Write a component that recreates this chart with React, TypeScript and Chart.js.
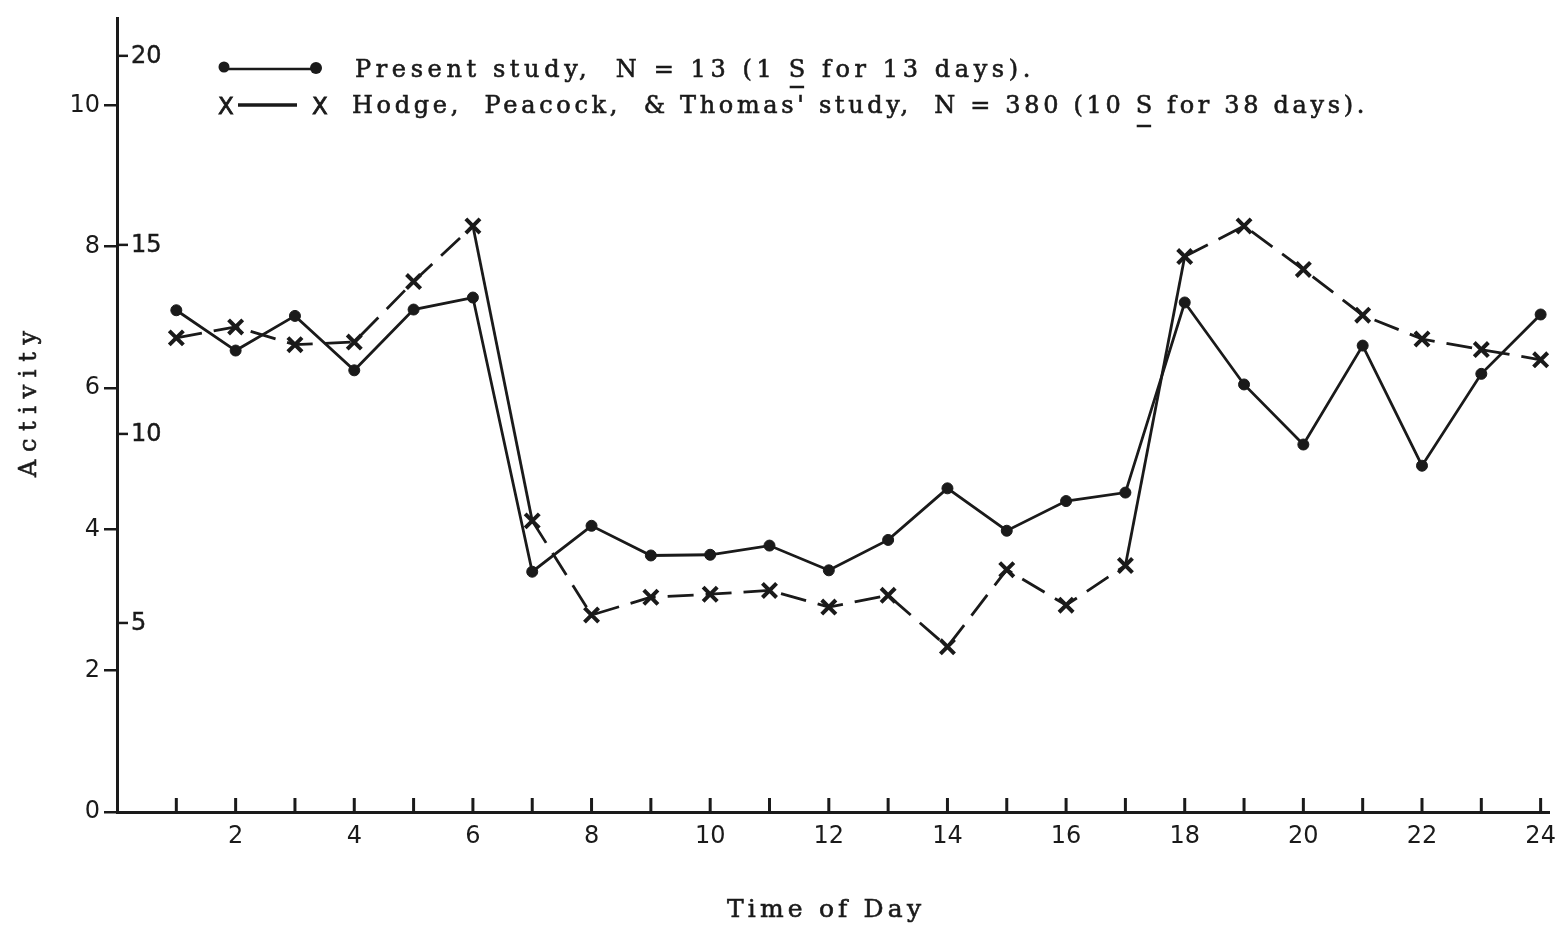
import React, { useEffect, useRef } from "react";
import { Chart, registerables } from "chart.js";

Chart.register(...registerables);

// ---- data ----
const hours = [1, 2, 3, 4, 5, 6, 7, 8, 9, 10, 11, 12, 13, 14, 15, 16, 17, 18, 19, 20, 21, 22, 23, 24];
// Present study, left scale (Activity 0-10)
const presentStudy = [7.1, 6.53, 7.02, 6.25, 7.11, 7.28, 3.4, 4.05, 3.63, 3.64, 3.77, 3.42, 3.85, 4.58, 3.98, 4.4, 4.52, 7.21, 6.05, 5.2, 6.6, 4.9, 6.2, 7.04];
// Hodge, Peacock & Thomas study, inner scale (0-20)
const hodgeStudy = [12.54, 12.83, 12.36, 12.43, 14.03, 15.5, 7.7, 5.21, 5.68, 5.76, 5.86, 5.42, 5.73, 4.37, 6.41, 5.47, 6.52, 14.69, 15.5, 14.35, 13.14, 12.51, 12.23, 11.96];

const xTickValues = [0, 1, 2, 3, 4, 5, 6, 7, 8, 9, 10, 11, 12, 13, 14, 15, 16, 17, 18, 19, 20, 21, 22, 23, 24];
const xLabelHours = [2, 4, 6, 8, 10, 12, 14, 16, 18, 20, 22, 24];
const xTickLabels = ["2", "4", "6", "8", "10", "12", "14", "16", "18", "20", "22", "24"];
const yLeftTicks = [0, 2, 4, 6, 8, 10];
const yRightTicks = [5, 10, 15, 20];

const legendPresent = ["Present study,  N = 13 (1 ", "S", " for 13 days)."];
const legendHodge = ["Hodge,  Peacock,  & Thomas' study,  N = 380 (10 ", "S", " for 38 days)."];
const xTitle = "Time of Day";
const yTitle = "Activity";

const INK = "#1a1a1a";
const NUM_FONT = "24px 'DejaVu Sans'";

function inkText(ctx: CanvasRenderingContext2D, t: string, x: number, y: number, w: number) {
  ctx.fillText(t, x, y);
  ctx.lineWidth = w;
  ctx.strokeText(t, x, y);
}

function drawSpacedParts(ctx: CanvasRenderingContext2D, parts: string[], x: number, y: number, target: number, ulOffset: number) {
  const full = parts.join("");
  (ctx as any).letterSpacing = "0px";
  const w = ctx.measureText(full).width;
  const ls = (target - w) / full.length;
  (ctx as any).letterSpacing = ls + "px";
  ctx.textAlign = "left";
  ctx.textBaseline = "alphabetic";
  inkText(ctx, full, x, y, 0.6);
  // underline the middle part (the "S")
  const pre = ctx.measureText(parts[0]).width;
  const sw = ctx.measureText(parts[1]).width - ls;
  ctx.lineWidth = 2.5;
  ctx.beginPath();
  ctx.moveTo(x + pre + 1, y + ulOffset);
  ctx.lineTo(x + pre + sw - 1, y + ulOffset);
  ctx.stroke();
  (ctx as any).letterSpacing = "0px";
}

function drawSpacedTitle(ctx: CanvasRenderingContext2D, text: string, cx: number, baseY: number, target: number, rotated: boolean) {
  (ctx as any).letterSpacing = "0px";
  const w = ctx.measureText(text).width;
  const ls = (target - w) / (text.length - 1);
  (ctx as any).letterSpacing = ls + "px";
  ctx.save();
  ctx.translate(cx, baseY);
  if (rotated) ctx.rotate(-Math.PI / 2);
  ctx.textAlign = "left";
  ctx.textBaseline = "alphabetic";
  inkText(ctx, text, -target / 2, 0, 0.6);
  ctx.restore();
  (ctx as any).letterSpacing = "0px";
}

const decorPlugin = {
  id: "decor",
  afterDraw(chart: any) {
    const ctx: CanvasRenderingContext2D = chart.ctx;
    const xs = chart.scales.x;
    const y2 = chart.scales.y2;
    const area = chart.chartArea;
    ctx.save();
    ctx.fillStyle = INK;
    ctx.strokeStyle = INK;

    // upward tick marks on the time axis
    ctx.lineWidth = 3;
    for (const h of hours) {
      const px = xs.getPixelForValue(h);
      ctx.beginPath();
      ctx.moveTo(px, area.bottom);
      ctx.lineTo(px, area.bottom - 14);
      ctx.stroke();
    }

    // inner (second) scale: ticks and labels on the right of the axis line
    ctx.font = NUM_FONT;
    ctx.textAlign = "left";
    ctx.textBaseline = "middle";
    for (const v of yRightTicks) {
      const py = y2.getPixelForValue(v);
      ctx.lineWidth = 2.5;
      ctx.beginPath();
      ctx.moveTo(area.left, py);
      ctx.lineTo(area.left + 11, py);
      ctx.stroke();
      inkText(ctx, String(v), area.left + 14, py + 1, 0.4);
    }

    // legend
    ctx.lineWidth = 2.5;
    ctx.beginPath();
    ctx.arc(224, 67, 5.5, 0, Math.PI * 2);
    ctx.fill();
    ctx.beginPath();
    ctx.arc(316, 68, 6, 0, Math.PI * 2);
    ctx.fill();
    ctx.beginPath();
    ctx.moveTo(228, 69);
    ctx.lineTo(312, 69);
    ctx.stroke();

    ctx.font = "23px 'DejaVu Sans'";
    ctx.textAlign = "center";
    ctx.textBaseline = "alphabetic";
    inkText(ctx, "X", 226, 114, 0.8);
    inkText(ctx, "X", 320, 114, 0.8);
    ctx.lineWidth = 3.5;
    ctx.beginPath();
    ctx.moveTo(238, 105);
    ctx.lineTo(297, 105);
    ctx.stroke();

    ctx.font = "24px 'DejaVu Serif'";
    drawSpacedParts(ctx, legendPresent, 355, 77, 680, 10);
    drawSpacedParts(ctx, legendHodge, 352, 113, 1016, 13);

    // axis titles
    ctx.font = "24px 'DejaVu Serif'";
    drawSpacedTitle(ctx, yTitle, 36, 404, 146, true);
    ctx.font = "25px 'DejaVu Serif'";
    drawSpacedTitle(ctx, xTitle, 824, 917, 194, false);

    ctx.restore();
  },
};

export default function App() {
  const ref = useRef<HTMLCanvasElement | null>(null);

  useEffect(() => {
    document.body.style.margin = "0";
    const canvas = ref.current;
    if (!canvas) return;

    const chart = new Chart(canvas, {
      type: "line",
      data: {
        datasets: [
          {
            label: "Present study, N = 13",
            data: hours.map((h, i) => ({ x: h, y: presentStudy[i] })),
            yAxisID: "y",
            borderColor: INK,
            backgroundColor: INK,
            borderWidth: 2.8,
            pointStyle: "circle",
            pointRadius: 5.5,
            pointBorderWidth: 1,
            pointBackgroundColor: INK,
            pointBorderColor: INK,
            tension: 0,
          },
          {
            label: "Hodge, Peacock, & Thomas' study, N = 380",
            data: hours.map((h, i) => ({ x: h, y: hodgeStudy[i] })),
            yAxisID: "y2",
            borderColor: INK,
            backgroundColor: INK,
            borderWidth: 2.8,
            borderDash: [26, 12],
            segment: {
              borderDash: (c: any) => (c.p0DataIndex === 5 || c.p0DataIndex === 16 ? [] : [26, 12]),
            },
            pointStyle: "crossRot",
            pointRadius: 10,
            pointBorderWidth: 4,
            pointBorderColor: INK,
            tension: 0,
          },
        ],
      },
      options: {
        responsive: false,
        animation: false,
        events: [],
        layout: { padding: { left: 0, top: 10, right: 16, bottom: 0 } },
        plugins: {
          legend: { display: false },
          tooltip: { enabled: false },
          title: { display: false },
        },
        scales: {
          x: {
            type: "linear",
            position: "bottom",
            min: 0,
            max: 24.15,
            grid: { display: false, drawTicks: false },
            border: { display: true, color: INK, width: 3 },
            ticks: {
              autoSkip: false,
              includeBounds: false,
              maxRotation: 0,
              padding: 10,
              color: INK,
              font: { family: "DejaVu Sans", size: 24 },
              callback: (v: any) => {
                const i = xLabelHours.indexOf(Number(v));
                return i >= 0 ? xTickLabels[i] : "";
              },
            },
            afterBuildTicks: (s: any) => {
              s.ticks = xTickValues.map((v) => ({ value: v }));
            },
            afterFit: (s: any) => {
              s.height = 115;
            },
          },
          y: {
            type: "linear",
            position: "left",
            min: 0,
            max: 11.23,
            grid: { drawOnChartArea: false, drawTicks: true, tickLength: 13, color: INK, lineWidth: 2.5 },
            border: { display: true, color: INK, width: 3 },
            ticks: {
              includeBounds: false,
              padding: 4,
              color: INK,
              font: { family: "DejaVu Sans", size: 24 },
            },
            afterBuildTicks: (s: any) => {
              s.ticks = yLeftTicks.map((v) => ({ value: v }));
            },
            afterFit: (s: any) => {
              s.width = 117;
            },
          },
          y2: {
            type: "linear",
            display: false,
            min: 0,
            max: 20.99,
          },
        },
      },
      plugins: [decorPlugin],
    } as any);

    return () => chart.destroy();
  }, []);

  return (
    <div style={{ width: 1566, height: 927, background: "#fff" }}>
      <canvas ref={ref} width={1566} height={927} style={{ display: "block" }} />
    </div>
  );
}
